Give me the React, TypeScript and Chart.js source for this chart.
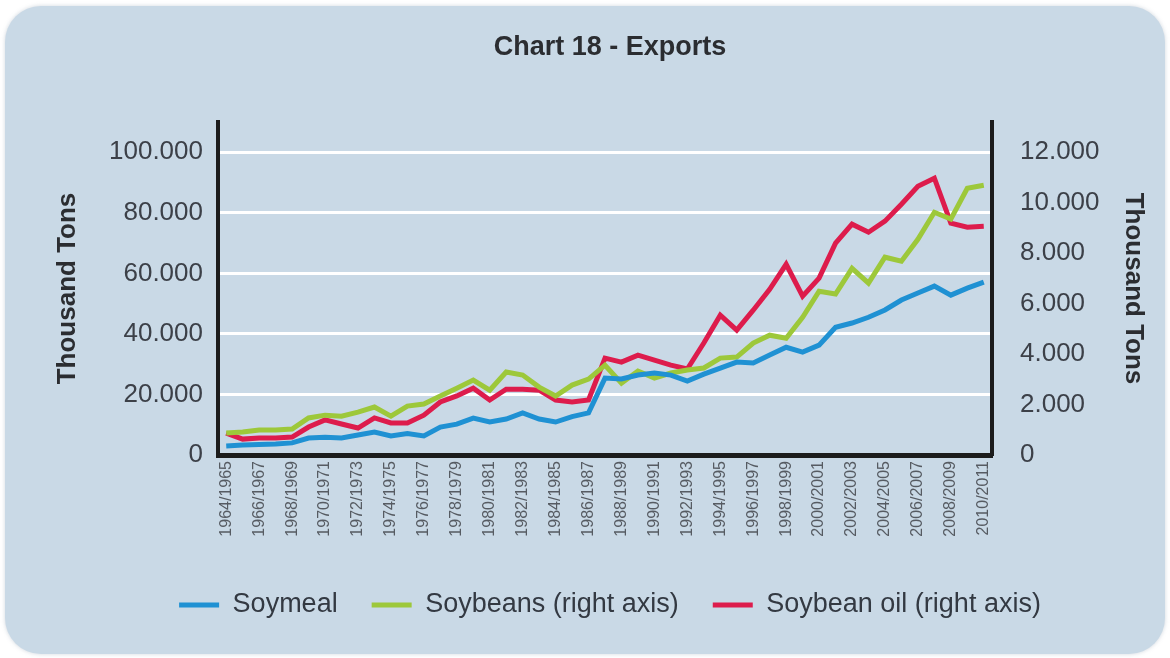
import React, { useEffect, useRef } from "react";
import { Chart, registerables } from "chart.js";

Chart.register(...registerables);

const categories = [
  "1964/1965", "1965/1966", "1966/1967", "1967/1968", "1968/1969", "1969/1970",
  "1970/1971", "1971/1972", "1972/1973", "1973/1974", "1974/1975", "1975/1976",
  "1976/1977", "1977/1978", "1978/1979", "1979/1980", "1980/1981", "1981/1982",
  "1982/1983", "1983/1984", "1984/1985", "1985/1986", "1986/1987", "1987/1988",
  "1988/1989", "1989/1990", "1990/1991", "1991/1992", "1992/1993", "1993/1994",
  "1994/1995", "1995/1996", "1996/1997", "1997/1998", "1998/1999", "1999/2000",
  "2000/2001", "2001/2002", "2002/2003", "2003/2004", "2004/2005", "2005/2006",
  "2006/2007", "2007/2008", "2008/2009", "2009/2010", "2010/2011",
];

// Soymeal, thousand tons (left axis)
const soymeal = [
  3000, 3300, 3500, 3600, 4000, 5600, 5900, 5600, 6600, 7600,
  6300, 7100, 6300, 9200, 10200, 12200, 10900, 11900, 13900, 11900,
  10900, 12700, 13900, 25400, 25100, 26400, 27100, 26400, 24400, 26700,
  28700, 30700, 30400, 33000, 35600, 34000, 36300, 42200, 43600, 45500,
  47900, 51200, 53500, 55800, 52800, 55100, 57100,
];

// Soybeans, thousand tons (right axis)
const soybeans = [
  870, 910, 990, 990, 1030, 1470, 1580, 1540, 1700, 1900,
  1540, 1940, 2020, 2340, 2650, 2970, 2570, 3290, 3170, 2690,
  2340, 2770, 3010, 3560, 2850, 3330, 3050, 3250, 3370, 3450,
  3840, 3880, 4440, 4750, 4630, 5460, 6490, 6380, 7400, 6810,
  7840, 7680, 8550, 9620, 9350, 10570, 10690,
];

// Soybean oil, thousand tons (right axis)
const soybeanOil = [
  870, 630, 670, 670, 710, 1110, 1390, 1230, 1070, 1470,
  1270, 1270, 1580, 2100, 2340, 2650, 2180, 2610, 2610, 2570,
  2180, 2100, 2180, 3840, 3680, 3960, 3760, 3560, 3410, 4440,
  5540, 4950, 5740, 6570, 7560, 6300, 7010, 8400, 9150, 8830,
  9270, 9940, 10650, 10970, 9190, 9030, 9070,
];

const leftTicks = [0, 20000, 40000, 60000, 80000, 100000];
const rightTicks = [0, 2000, 4000, 6000, 8000, 10000, 12000];

const FONT = "'Liberation Sans', Arial, Helvetica, sans-serif";
const BLUE = "#1f91d3";
const GREEN = "#9dc83a";
const RED = "#dd1c4c";

function fmt(v: number): string {
  if (v === 0) return "0";
  return Math.round(v)
    .toString()
    .replace(/\B(?=(\d{3})+(?!\d))/g, ".");
}

export default function App() {
  const canvasRef = useRef<HTMLCanvasElement | null>(null);

  useEffect(() => {
    if (!canvasRef.current) return;
    const chart = new Chart(canvasRef.current, {
      type: "line",
      data: {
        labels: categories,
        datasets: [
          {
            label: "Soymeal",
            data: soymeal,
            borderColor: BLUE,
            backgroundColor: BLUE,
            borderWidth: 5,
            pointRadius: 0,
            tension: 0,
            yAxisID: "y",
          },
          {
            label: "Soybeans (right axis)",
            data: soybeans,
            borderColor: GREEN,
            backgroundColor: GREEN,
            borderWidth: 5,
            pointRadius: 0,
            tension: 0,
            yAxisID: "y1",
          },
          {
            label: "Soybean oil (right axis)",
            data: soybeanOil,
            borderColor: RED,
            backgroundColor: RED,
            borderWidth: 5,
            pointRadius: 0,
            tension: 0,
            yAxisID: "y1",
          },
        ],
      },
      options: {
        responsive: false,
        animation: false,
        layout: { padding: { left: 50, right: 0, top: 0, bottom: 29.5 } },
        plugins: {
          title: {
            display: true,
            text: "Chart 18 - Exports",
            color: "#2b2d31",
            font: { family: FONT, size: 27, weight: "bold" },
            padding: { top: 31, bottom: 58.6 },
          },
          legend: {
            display: true,
            position: "bottom",
            labels: {
              color: "#333942",
              font: { family: FONT, size: 27 },
              boxWidth: 40,
              boxHeight: 5,
              padding: 34,
              generateLabels: (c: any) =>
                c.data.datasets.map((ds: any, i: number) => ({
                  text: ds.label,
                  fillStyle: ds.borderColor,
                  strokeStyle: ds.borderColor,
                  lineWidth: 0,
                  hidden: false,
                  datasetIndex: i,
                  fontColor: "#333942",
                })),
            },
          },
          tooltip: { enabled: false },
        },
        scales: {
          x: {
            type: "category",
            offset: true,
            grid: { display: false, drawTicks: false },
            border: { display: true, color: "#1c1c1c", width: 5 },
            ticks: {
              autoSkip: false,
              maxRotation: 90,
              minRotation: 90,
              padding: 6,
              color: "#565b62",
              font: { family: FONT, size: 16 },
              callback: (_v: any, i: number) => (i % 2 === 0 ? categories[i] : ""),
            },
            afterFit: (s: any) => {
              s.height = 102.5;
            },
          },
          y: {
            type: "linear",
            position: "left",
            min: 0,
            max: 110000,
            afterBuildTicks: (s: any) => {
              s.ticks = leftTicks.map((v) => ({ value: v }));
            },
            grid: { display: true, color: "#ffffff", lineWidth: 3, drawTicks: false },
            border: { display: true, color: "#1c1c1c", width: 4 },
            ticks: {
              padding: 15,
              color: "#3c4048",
              font: { family: FONT, size: 26 },
              callback: (v: any) => fmt(Number(v)),
            },
            title: {
              display: true,
              text: "Thousand Tons",
              color: "#2b2d31",
              font: { family: FONT, size: 26, weight: "bold" },
              padding: { top: 2, bottom: 0 },
            },
            afterFit: (s: any) => {
              s.width = 168;
            },
          },
          y1: {
            type: "linear",
            position: "right",
            min: 0,
            max: 13200,
            afterBuildTicks: (s: any) => {
              s.ticks = rightTicks.map((v) => ({ value: v }));
            },
            grid: { display: false, drawTicks: false },
            border: { display: true, color: "#1c1c1c", width: 4 },
            ticks: {
              padding: 28,
              color: "#3c4048",
              font: { family: FONT, size: 26 },
              callback: (v: any) => fmt(Number(v)),
            },
            title: {
              display: true,
              text: "Thousand Tons",
              color: "#2b2d31",
              font: { family: FONT, size: 26, weight: "bold" },
              padding: { top: 21, bottom: 0 },
            },
            afterFit: (s: any) => {
              s.width = 178;
            },
          },
        },
      },
    } as any);
    return () => chart.destroy();
  }, []);

  return (
    <div
      style={{
        position: "fixed",
        left: 0,
        top: 0,
        width: 1170,
        height: 658,
        background: "#ffffff",
        overflow: "hidden",
      }}
    >
      <div
        style={{
          position: "absolute",
          left: 5,
          top: 6,
          width: 1160,
          height: 648,
          borderRadius: 36,
          background: "#c9d9e6",
          boxShadow: "0 0 4px rgba(120,140,160,0.35)",
        }}
      />
      <canvas
        ref={canvasRef}
        width={1170}
        height={658}
        style={{ position: "absolute", left: 0, top: 0, width: 1170, height: 658 }}
      />
    </div>
  );
}
